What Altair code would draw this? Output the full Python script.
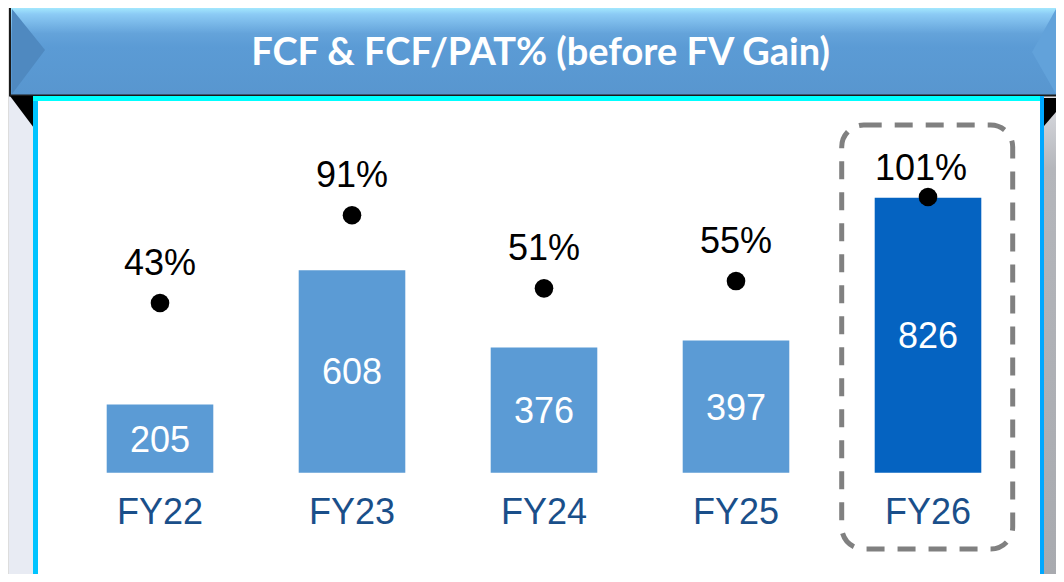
import altair as alt
import pandas as pd

# ---- data ----
years = ["FY22", "FY23", "FY24", "FY25", "FY26"]
fcf = [205, 608, 376, 397, 826]
fcf_pat = [43, 91, 51, 55, 101]
title_text = "FCF & FCF/PAT% (before FV Gain)"

df = pd.DataFrame({"year": years, "fcf": fcf, "pct": fcf_pat})
df["pct_label"] = [f"{p}%" for p in fcf_pat]

# ---- scales ----
xscale = alt.Scale(domain=years, range=[56, 1016], paddingInner=0.445, paddingOuter=0.2225)
yfcf = alt.Scale(domain=[0, 1000], range=[464.7, 131.7])
ypct = alt.Scale(domain=[0, 100], range=[373.6, 190.8])
X = alt.X("year:N", scale=xscale, axis=None)

W, H = 1048, 566


def vgrad(stops):
    return {"gradient": "linear", "x1": 0, "y1": 0, "x2": 0, "y2": 1,
            "stops": [{"offset": o, "color": c} for o, c in stops]}


def box(x1, x2, y1, y2, **kw):
    return alt.Chart(pd.DataFrame({"a": [0]})).mark_rect(**kw).encode(
        x=alt.value(x1), x2=alt.value(x2), y=alt.value(y1), y2=alt.value(y2))


def poly(xs, ys, y2s, color):
    d = pd.DataFrame({"px": xs, "py": ys, "py2": y2s})
    return alt.Chart(d).mark_area(color=color, opacity=1).encode(
        x=alt.X("px:Q", scale=None), y=alt.Y("py:Q", scale=None), y2="py2:Q")


# ---- decorations ----
banner = box(2, 1052, -1, 87.5,
             fill=vgrad([(0, "#a6ecff"), (0.08, "#8ccbf5"), (0.3, "#64a3da"),
                         (0.45, "#5b9bd5"), (1, "#5896cf")]),
             stroke="#1a1a1a", strokeWidth=2)
bevel_l = poly([4, 37], [1, 42], [86, 42], "#4f89c0")
bevel_r = poly([1024, 1048], [44, 1], [44, 86], "#62a2da")
black_l = poly([2, 26], [88, 88], [88, 120], "#000000")

box_outer = box(25, 1036, 88, H, fill="#00c4ff")
box_top = box(25, 1036, 88, 93, fill="#00ffff")
box_right = box(1032, 1036, 88, H, fill="#00a8ff")
box_inner = box(30, 1032, 93, H, fill="#ffffff")
grey_panel = box(1036, W, 89, H,
                 fill=vgrad([(0, "#dcdde2"), (0.15, "#b4b6bb"), (1, "#a8aaaf")]))
black_r = poly([1036, W], [90, 90], [118, 104], "#000000")

dashed = box(833.7, 1004.7, 117, 541, filled=False, stroke="#808080",
             strokeWidth=5, strokeDash=[18, 13], cornerRadius=22)

# ---- data marks ----
base = alt.Chart(df)

bars = base.mark_bar(size=106.6).encode(
    x=X,
    y=alt.Y("fcf:Q", scale=yfcf, axis=None),
    color=alt.condition("datum.year == 'FY26'", alt.value("#0563c1"), alt.value("#5b9bd5")),
)

bar_labels = base.transform_calculate(mid="datum.fcf / 2").mark_text(
    font="Liberation Sans", fontSize=36, color="white", baseline="middle", dy=2
).encode(x=X, y=alt.Y("mid:Q", scale=yfcf, axis=None), text="fcf:Q")

dots = base.mark_circle(size=346, color="black", opacity=1).encode(
    x=X, y=alt.Y("pct:Q", scale=ypct, axis=None))

pct_labels = base.transform_filter("datum.year != 'FY26'").mark_text(
    font="Liberation Sans", fontSize=36, color="black", baseline="alphabetic", dy=-28
).encode(x=X, y=alt.Y("pct:Q", scale=ypct, axis=None), text="pct_label:N")

pct_label_last = base.transform_filter("datum.year == 'FY26'").mark_text(
    font="Liberation Sans", fontSize=36, color="black", baseline="alphabetic", dy=-17, dx=-7
).encode(x=X, y=alt.Y("pct:Q", scale=ypct, axis=None), text="pct_label:N")

x_labels = base.mark_text(
    font="Liberation Sans", fontSize=36, color="#1a4f8a", baseline="alphabetic"
).encode(x=X, y=alt.value(516), text="year:N")

title = alt.Chart(pd.DataFrame({"t": [title_text]})).mark_text(
    font="Lato", fontWeight="bold", fontSize=38, color="white",
    baseline="alphabetic", align="center"
).encode(x=alt.value(532.5), y=alt.value(57), text="t:N")

chart = alt.layer(
    banner, bevel_l, bevel_r, black_l,
    box_outer, box_top, box_right, box_inner, grey_panel, black_r,
    dashed, bars, bar_labels, dots, pct_labels, pct_label_last, x_labels, title,
).resolve_scale(x="independent", y="independent").properties(
    width=W, height=H, padding=0,
    autosize=alt.AutoSizeParams(type="none"),
).configure_view(stroke=None).configure(background="#e8ebf3")

chart.save("out.html", embed_options={"renderer": "svg", "actions": False})
